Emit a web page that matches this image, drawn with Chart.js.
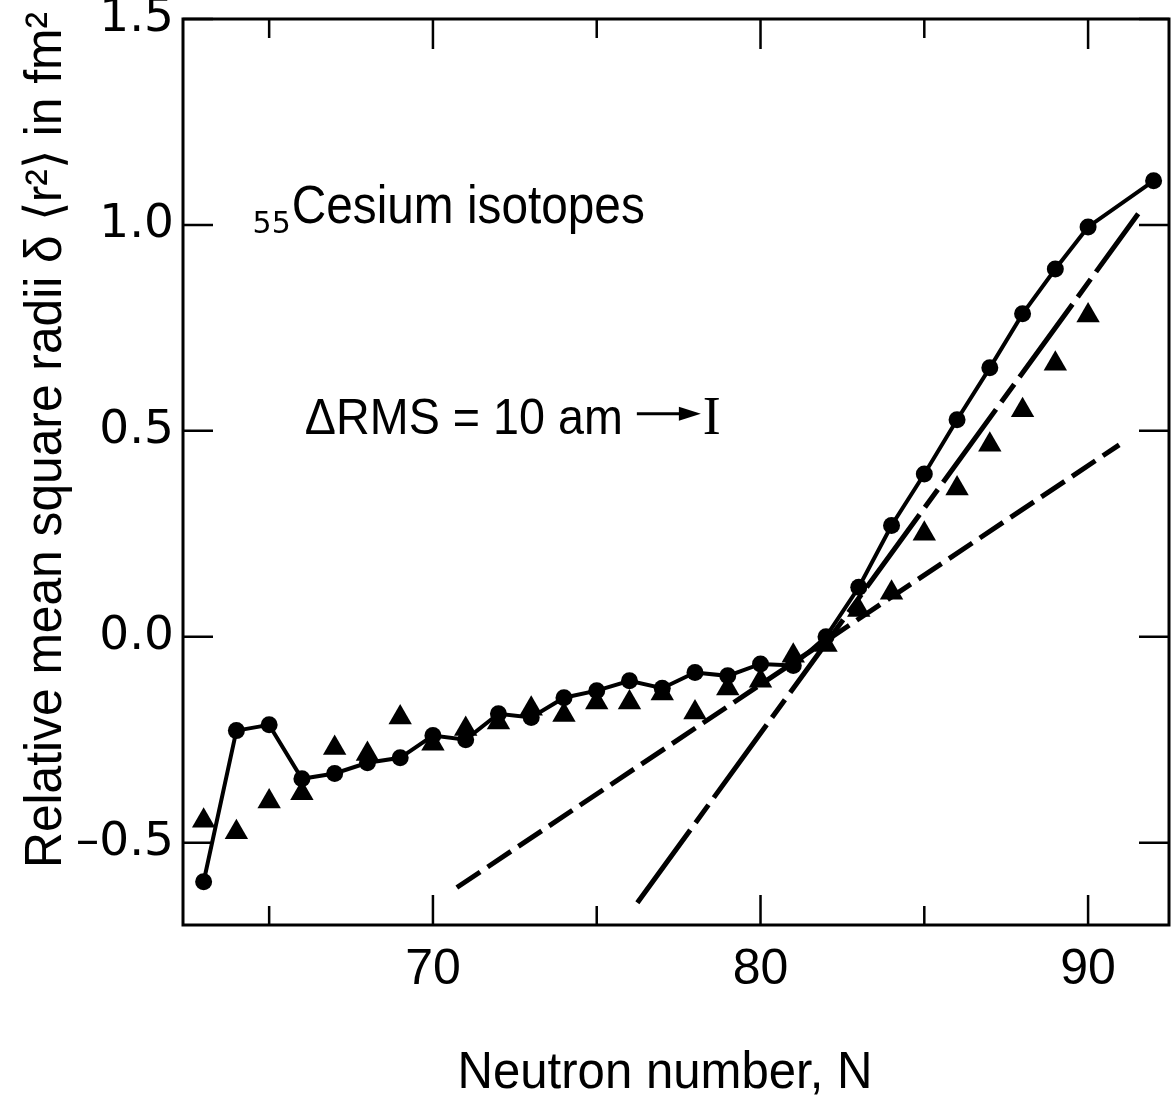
<!DOCTYPE html>
<html>
<head>
<meta charset="utf-8">
<script src="https://cdn.jsdelivr.net/npm/chart.js@4.4.1/dist/chart.umd.min.js"></script>
<style>
  html, body { margin: 0; padding: 0; background: #fff; }
</style>
</head>
<body>
<canvas id="chart" width="1174" height="1101"></canvas>
<script>
// Values: delta <r^2> in fm^2 against neutron number
const circleN = [63, 64, 65, 66, 67, 68, 69, 70, 71, 72, 73, 74, 75, 76, 77, 78, 79, 80, 81, 82, 83, 84, 85, 86, 87, 88, 89, 90, 92];
const circleR2 = [-0.595, -0.228, -0.214, -0.345, -0.332, -0.306, -0.294, -0.240, -0.250, -0.187, -0.196, -0.148, -0.131, -0.107, -0.125, -0.087, -0.095, -0.066, -0.070, 0.000, 0.120, 0.270, 0.395, 0.527, 0.653, 0.784, 0.893, 0.995, 1.107];

const triangleN = [63, 64, 65, 66, 67, 68, 69, 70, 71, 72, 73, 74, 75, 76, 77, 78, 79, 80, 81, 82, 83, 84, 85, 86, 87, 88, 89, 90];
const triangleR2 = [-0.447, -0.475, -0.400, -0.380, -0.270, -0.285, -0.196, -0.260, -0.224, -0.208, -0.175, -0.190, -0.160, -0.160, -0.138, -0.184, -0.126, -0.107, -0.046, -0.020, 0.065, 0.107, 0.250, 0.360, 0.466, 0.550, 0.663, 0.780];

// dashed reference lines (end points)
const shallowN = [70.73, 90.95];
const shallowR2 = [-0.609, 0.466];
const steepN = [76.24, 91.53];
const steepR2 = [-0.646, 1.027];

// axes
const xRange = [62.37, 92.47];
const yRange = [-0.70, 1.5];
const xTicks = [65, 70, 75, 80, 85, 90];
const xLabels = [70, 80, 90];
const yTicks = [-0.5, 0, 0.5, 1.0, 1.5];

// where the two notes sit (data units)
const cesiumAt = [65.69, 1.005];
const rmsAt = [66.09, 0.493];

const FONT = "'Liberation Sans', Arial, sans-serif";
const DIGITS = "'DejaVu Sans', sans-serif";

function toPoints(xs, ys) {
  return xs.map((v, i) => ({ x: v, y: ys[i] }));
}

// box with inward ticks on all four sides
const framePlugin = {
  id: 'frame',
  afterDatasetsDraw(chart) {
    const { ctx, chartArea: a, scales: { x, y } } = chart;
    ctx.save();
    ctx.strokeStyle = '#000';
    ctx.lineWidth = 3;
    ctx.strokeRect(a.left, a.top, a.right - a.left, a.bottom - a.top);
    ctx.lineWidth = 2.5;
    ctx.beginPath();
    xTicks.forEach(v => {
      const px = x.getPixelForValue(v);
      const len = v % 10 === 0 ? 30 : 19;
      ctx.moveTo(px, a.bottom); ctx.lineTo(px, a.bottom - len);
      ctx.moveTo(px, a.top); ctx.lineTo(px, a.top + len);
    });
    yTicks.forEach(v => {
      const py = y.getPixelForValue(v);
      ctx.moveTo(a.left, py); ctx.lineTo(a.left + 30, py);
      ctx.moveTo(a.right, py); ctx.lineTo(a.right - 30, py);
    });
    ctx.stroke();
    ctx.restore();
  }
};

// text in the figure; the old lettering is narrow, so squeeze with maxWidth
const notesPlugin = {
  id: 'notes',
  afterDraw(chart) {
    const { ctx, chartArea: a, scales: { x, y } } = chart;
    ctx.save();
    ctx.fillStyle = '#000';
    ctx.strokeStyle = '#000';
    ctx.textBaseline = 'alphabetic';

    // 55Cesium isotopes
    let px = x.getPixelForValue(cesiumAt[0]);
    let py = y.getPixelForValue(cesiumAt[1]);
    ctx.font = '30px ' + DIGITS;
    ctx.textAlign = 'right';
    ctx.fillText('55', px - 1, py + 10);
    ctx.textAlign = 'left';
    ctx.font = '54px ' + FONT;
    ctx.fillText('Cesium isotopes', px, py, 353);

    // ΔRMS = 10 am --> I
    px = x.getPixelForValue(rmsAt[0]);
    py = y.getPixelForValue(rmsAt[1]);
    ctx.font = '50px ' + FONT;
    const label = 'ΔRMS = 10 am';
    const w = Math.min(ctx.measureText(label).width, 318);
    ctx.fillText(label, px, py, 318);
    const end = px + w;
    const x0 = end + 14, x1 = end + 78, ay = py - 20;
    ctx.lineWidth = 3;
    ctx.beginPath();
    ctx.moveTo(x0, ay); ctx.lineTo(x1 - 18, ay);
    ctx.stroke();
    ctx.beginPath();
    ctx.moveTo(x1, ay); ctx.lineTo(x1 - 22, ay - 7); ctx.lineTo(x1 - 22, ay + 7);
    ctx.closePath();
    ctx.fill();
    ctx.font = "54px 'Liberation Serif', serif";
    ctx.fillText('I', x1 + 2, py);

    // axis titles
    ctx.font = '52px ' + FONT;
    ctx.textAlign = 'center';
    ctx.fillText('Neutron number, N', (a.left + a.right) / 2 - 11, chart.height - 13, 415);

    ctx.translate(61, (a.top + a.bottom) / 2 - 32);
    ctx.rotate(-Math.PI / 2);
    ctx.font = '52px ' + FONT;
    ctx.fillText('Relative mean square radii \u03b4 \u27e8r\u00b2\u27e9 in fm\u00b2', 0, 0, 856);
    ctx.restore();
  }
};

new Chart(document.getElementById('chart'), {
  type: 'scatter',
  data: {
    datasets: [
      {
        label: 'circles',
        data: toPoints(circleN, circleR2),
        showLine: true,
        borderColor: '#000',
        backgroundColor: '#000',
        borderWidth: 4,
        pointStyle: 'circle',
        pointRadius: 8.5,
        pointBorderWidth: 0
      },
      {
        label: 'triangles',
        data: toPoints(triangleN, triangleR2),
        showLine: false,
        borderColor: '#000',
        backgroundColor: '#000',
        pointStyle: 'triangle',
        pointRadius: 13.5,
        pointBorderWidth: 0
      },
      {
        label: 'shallow',
        data: toPoints(shallowN, shallowR2),
        showLine: true,
        borderColor: '#000',
        borderWidth: 5,
        borderDash: [28, 9],
        pointRadius: 0
      },
      {
        label: 'steep',
        data: toPoints(steepN, steepR2),
        showLine: true,
        borderColor: '#000',
        borderWidth: 5,
        borderDash: [90, 9, 22, 9],
        pointRadius: 0
      }
    ]
  },
  options: {
    responsive: false,
    animation: false,
    devicePixelRatio: 1,
    layout: { autoPadding: false, padding: { top: 19, right: 5, left: 0, bottom: 0 } },
    plugins: {
      legend: { display: false },
      tooltip: { enabled: false }
    },
    scales: {
      x: {
        type: 'linear',
        min: xRange[0],
        max: xRange[1],
        grid: { display: false, drawTicks: false },
        border: { display: false },
        ticks: {
          stepSize: 5,
          includeBounds: false,
          autoSkip: false,
          maxRotation: 0,
          padding: 15,
          color: '#000',
          font: { family: FONT, size: 50 },
          callback: v => xLabels.includes(v) ? String(v) : ''
        },
        title: { display: false },
        afterFit(scale) {
          scale.height = 176;
          scale.paddingLeft = 0;
          scale.paddingRight = 0;
        }
      },
      y: {
        type: 'linear',
        min: yRange[0],
        max: yRange[1],
        grid: { display: false, drawTicks: false },
        border: { display: false },
        ticks: {
          stepSize: 0.5,
          includeBounds: false,
          padding: 9,
          color: '#000',
          font: { family: DIGITS, size: 47 },
          callback: v => (v < 0 ? '\u2013' : '') + Math.abs(v).toFixed(1)
        },
        title: { display: false },
        afterFit(scale) {
          scale.width = 183;
          scale.paddingTop = 0;
          scale.paddingBottom = 0;
        }
      }
    }
  },
  plugins: [framePlugin, notesPlugin]
});
</script>
</body>
</html>
